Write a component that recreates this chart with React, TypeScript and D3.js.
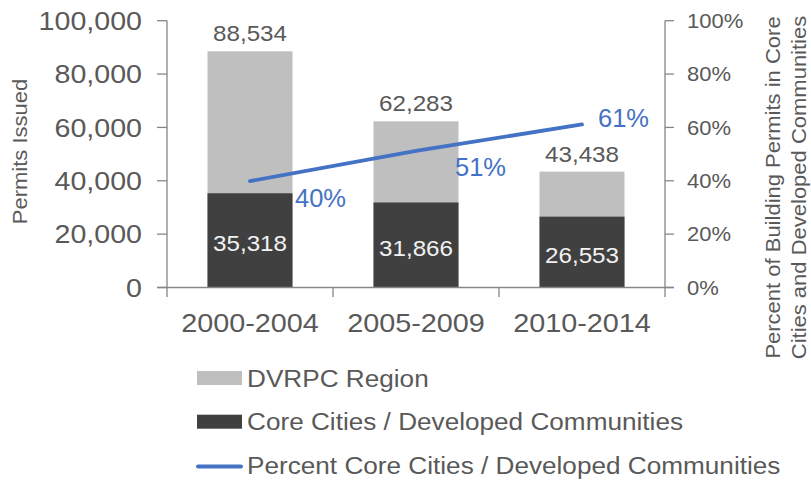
import React from 'react';
import * as d3 from 'd3';

const categories = ['2000-2004', '2005-2009', '2010-2014'];
const totalPermits = [88534, 62283, 43438];
const corePermits = [35318, 31866, 26553];
const corePercent = [0.399, 0.512, 0.611];
const leftTicks = [0, 20000, 40000, 60000, 80000, 100000];
const rightTicks = [0, 0.2, 0.4, 0.6, 0.8, 1];
const seriesNames = [
  'DVRPC Region',
  'Core Cities / Developed Communities',
  'Percent Core Cities / Developed Communities',
];
const leftTitle = 'Permits Issued';
const rightTitleLines = ['Percent of Building Permits in Core', 'Cities and Developed Communities'];

// style constants
const W = 811;
const H = 481;
const FONT = '"Liberation Sans", Arial, sans-serif';
const TEXT = '#595959';
const AXIS = '#868686';
const GRAY = '#BFBFBF';
const DARK = '#404040';
const BLUE = '#4472C4';
const pctLabelOffsets: [number, number][] = [[45, 17], [39, 16], [16, -6]];

const plot = { left: 167, right: 665, top: 20.7, bottom: 287.5 };

function T(props: {
  x: number; y: number; size: number; anchor?: string; fill?: string; sx?: number; rotate?: number; children: React.ReactNode;
}) {
  const { x, y, size, anchor = 'start', fill = TEXT, sx = 1.1, rotate, children } = props;
  const tr = `translate(${x},${y})${rotate ? ` rotate(${rotate})` : ''} scale(${sx},1)`;
  return (
    <text transform={tr} fontSize={size} textAnchor={anchor} fill={fill} fontFamily={FONT}>
      {children}
    </text>
  );
}

export default function App() {
  const x = d3.scaleBand<string>().domain(categories).range([plot.left, plot.right]).paddingInner(0.488).paddingOuter(0.244);
  const y = d3.scaleLinear().domain([0, 100000]).range([plot.bottom, plot.top]);
  const yp = d3.scaleLinear().domain([0, 1]).range([plot.bottom, plot.top]);
  const fmt = d3.format(',');
  const pfmt = d3.format('.0%');
  const bw = x.bandwidth();
  const cx = (c: string) => (x(c) as number) + bw / 2;
  const step = x.step();

  const line = d3.line<number>().x((_, i) => cx(categories[i])).y((d) => yp(d));

  const boundaries = [0, 1, 2, 3].map((i) => plot.left + i * step);

  return (
    <svg width={W} height={H} style={{ position: 'absolute', left: 0, top: 0, background: '#fff' }}>
      {/* bars */}
      {categories.map((c, i) => (
        <g key={c}>
          <rect x={x(c)} y={y(totalPermits[i])} width={bw} height={y(0) - y(totalPermits[i])} fill={GRAY} />
          <rect x={x(c)} y={y(corePermits[i])} width={bw} height={y(0) - y(corePermits[i])} fill={DARK} />
        </g>
      ))}

      {/* axes */}
      <g stroke={AXIS} strokeWidth={1.3} fill="none">
        <line x1={plot.left} x2={plot.left} y1={plot.top} y2={plot.bottom} />
        <line x1={plot.right} x2={plot.right} y1={plot.top} y2={plot.bottom} />
        <line x1={plot.left - 10} x2={plot.right + 9} y1={plot.bottom} y2={plot.bottom} />
        {leftTicks.map((t) => (
          <line key={'l' + t} x1={plot.left - 10} x2={plot.left} y1={y(t)} y2={y(t)} />
        ))}
        {rightTicks.map((t) => (
          <line key={'r' + t} x1={plot.right} x2={plot.right + 9} y1={yp(t)} y2={yp(t)} />
        ))}
        {boundaries.map((b) => (
          <line key={'b' + b} x1={b} x2={b} y1={plot.bottom} y2={plot.bottom + 9.5} />
        ))}
      </g>

      {/* left tick labels */}
      {leftTicks.map((t) => (
        <T key={'lt' + t} x={142} y={y(t) + 9.3} size={26} anchor="end">{fmt(t)}</T>
      ))}
      {/* right tick labels */}
      {rightTicks.map((t) => (
        <T key={'rt' + t} x={687} y={yp(t) + 7.2} size={20}>{pfmt(t)}</T>
      ))}

      {/* category labels */}
      {categories.map((c) => (
        <T key={'c' + c} x={cx(c)} y={332} size={25.5} sx={1.13} anchor="middle">{c}</T>
      ))}

      {/* value labels */}
      {categories.map((c, i) => (
        <T key={'v' + c} x={cx(c)} y={y(totalPermits[i]) - 10} size={22} anchor="middle">{fmt(totalPermits[i])}</T>
      ))}
      {categories.map((c, i) => (
        <T key={'cv' + c} x={cx(c)} y={(y(corePermits[i]) + y(0)) / 2 + 11} size={22} anchor="middle" fill="#f2f2f2">
          {fmt(corePermits[i])}
        </T>
      ))}

      {/* percent line */}
      <path d={line(corePercent) || ''} fill="none" stroke={BLUE} strokeWidth={3.8} strokeLinecap="round" />
      {categories.map((c, i) => (
        <T key={'p' + c} x={cx(c) + pctLabelOffsets[i][0]} y={yp(corePercent[i]) + pctLabelOffsets[i][1] + 9} size={25} sx={1.02} fill={BLUE}>
          {pfmt(corePercent[i])}
        </T>
      ))}

      {/* axis titles */}
      <T x={27} y={151.5} size={20} anchor="middle" rotate={-90}>{leftTitle}</T>
      {rightTitleLines.map((l, i) => (
        <T key={l} x={780 + i * 26} y={187.5} size={20} anchor="middle" rotate={-90}>{l}</T>
      ))}

      {/* legend */}
      {seriesNames.map((s, i) => {
        const cy = 378 + i * 43.7;
        return (
          <g key={s}>
            {i < 2 ? (
              <rect x={197} y={cy - 7} width={45} height={14} fill={i === 0 ? GRAY : DARK} />
            ) : (
              <line x1={198} x2={241} y1={cy + 1} y2={cy + 1} stroke={BLUE} strokeWidth={4} strokeLinecap="round" />
            )}
            <T x={247} y={cy + 8.6} size={24} sx={1.09}>{s}</T>
          </g>
        );
      })}
    </svg>
  );
}
